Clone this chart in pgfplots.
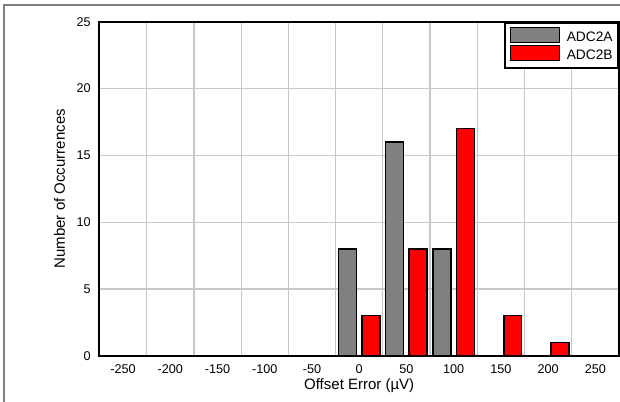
\documentclass[border=0pt]{standalone}
\usepackage{pgfplots}
\pgfplotsset{compat=1.18}
\usepackage{fontspec}
\setmainfont{Liberation Sans}
\definecolor{barA}{RGB}{128,128,128}
\definecolor{barB}{RGB}{255,0,0}
\definecolor{gridc}{RGB}{200,200,200}
\definecolor{framec}{RGB}{128,128,128}
\begin{document}
\begin{tikzpicture}
\useasboundingbox (-74.6pt,-34pt) rectangle (390.4pt,266.8pt);
\begin{scope}
\clip (-74.6pt,-34pt) rectangle (390.4pt,266.8pt);
\draw[framec, line width=1.1pt] (-71.6pt,-60pt) rectangle (420pt,263pt);
\end{scope}
\begin{axis}[
  at={(0,0)}, anchor=south west,
  scale only axis, width=389.6pt, height=250.5pt,
  xmin=-275, xmax=275, ymin=0, ymax=25,
  xtick={-250,-200,...,250},
  minor xtick={-225,-175,...,225},
  ytick={0,5,...,25},
  major tick length=0pt, minor tick length=0pt,
  xminorgrids, ymajorgrids, xmajorgrids=false,
  grid style={gridc, line width=0.9pt},
  minor grid style={gridc, line width=0.9pt},
  axis line style={black, line width=1.5pt},
  /pgf/number format/assume math mode=true,
  tick label style={font=\fontsize{9.5}{11}\selectfont},
  xticklabel style={anchor=center, yshift=-10.4pt},
  yticklabel style={anchor=east, xshift=-3pt},
  xlabel={Offset Error (µV)},
  ylabel={Number of Occurrences},
  label style={font=\fontsize{11.25}{13}\selectfont},
  xlabel style={at={(axis description cs:0.5,-0.0895)}, anchor=center},
  ylabel style={at={(axis description cs:-0.077,0.5)}, anchor=center},
  legend style={at={(1,1)}, anchor=north east, draw=black, line width=1.5pt,
    fill=white, font=\fontsize{10.3}{12}\selectfont, row sep=0pt,
    inner xsep=4pt, inner ysep=3pt,
    nodes={inner sep=0pt, text height=7.5pt, text depth=3pt},
    /tikz/column 1/.style={column sep=5pt}},
  legend cell align=left,
  legend image code/.code={\draw[#1, draw=black, line width=0.6pt] (0pt,-2.9pt) rectangle (36.75pt,8.3pt);},
]
\addplot[ybar, bar width=19, bar shift=-12.5, fill=barA, draw=black, line width=1.2pt]
  coordinates {(-250,0) (-200,0) (-150,0) (-100,0) (-50,0) (0,8) (50,16) (100,8) (150,0) (200,0) (250,0)};
\addplot[ybar, bar width=19, bar shift=12.5, fill=barB, draw=black, line width=1.2pt]
  coordinates {(-250,0) (-200,0) (-150,0) (-100,0) (-50,0) (0,3) (50,8) (100,17) (150,3) (200,1) (250,0)};
\legend{ADC2A, ADC2B}
\end{axis}
\end{tikzpicture}
\end{document}
